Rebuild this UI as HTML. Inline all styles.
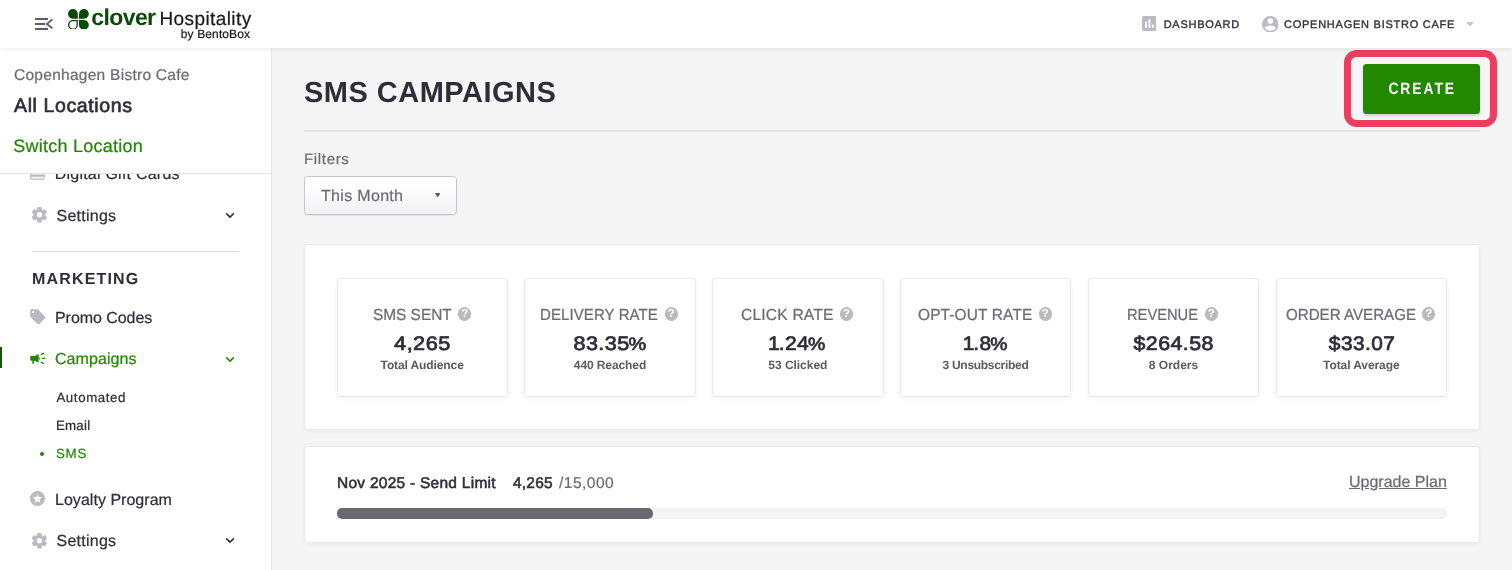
<!DOCTYPE html>
<html>
<head>
<meta charset="utf-8">
<title>SMS Campaigns</title>
<style>
*{box-sizing:border-box;margin:0;padding:0}
html,body{width:1512px;height:570px;overflow:hidden}
body{font-family:"Liberation Sans",sans-serif;background:#f5f5f5;color:#2d2e38;position:relative;will-change:transform;text-rendering:geometricPrecision}
.abs{position:absolute;white-space:nowrap}
/* header */
#hdr{position:absolute;left:0;top:0;width:1512px;height:48px;background:#fff;box-shadow:0 1px 5px rgba(0,0,0,.085);z-index:5}
/* sidebar */
#side{position:absolute;left:0;top:48px;width:272px;height:522px;background:#fff;border-right:1px solid #e4e4e6;z-index:2}
#sidetop{position:absolute;left:0;top:0;width:271px;height:126px;background:#fff;border-bottom:1px solid #e4e4e6;z-index:3}
.nav{font-size:16px;color:#2d2e38}
.sub{font-size:13.3px;color:#2d2e38}
.green{color:#228800}
body{-webkit-text-stroke:.22px currentColor}
[style*="font-weight:bold"],.card .s,.q{-webkit-text-stroke:0}
.med{font-weight:normal !important}
.abs.med{-webkit-text-stroke:.035em currentColor}
/* main */
.panel{position:absolute;background:#fff;border:1px solid #e9e9eb;border-radius:3.5px;box-shadow:0 2px 4px rgba(0,0,0,.045)}
.card{position:absolute;top:277.6px;width:171.4px;height:119px;background:#fff;border:1px solid #e9e9eb;border-radius:3.5px;box-shadow:0 2px 4px rgba(0,0,0,.05);text-align:center}
.card .l{position:absolute;left:0;right:0;top:27px;height:20px;font-size:16px;color:#6b6b73;-webkit-text-stroke:.015em currentColor;white-space:nowrap;display:flex;justify-content:center;align-items:center;padding-right:1.6px}
.card .v{position:absolute;left:0;right:0;top:54.3px;font-size:19.5px;letter-spacing:1px;-webkit-text-stroke:.038em currentColor;font-weight:bold;color:#2d2e38;white-space:nowrap}
.card .s{position:absolute;left:0;right:0;top:79.1px;font-size:12px;font-weight:bold;color:#5a5b64;white-space:nowrap}
.q{display:block;width:13.3px;height:13.3px;border-radius:50%;background:#b9b9be;color:#fff;font-size:11.5px;font-weight:bold;line-height:14.6px;text-align:center;margin-left:6.3px;letter-spacing:0;position:relative;top:-1.5px}
</style>
</head>
<body>

<div id="hdr">
  <!-- hamburger collapse icon -->
  <svg class="abs" style="left:34px;top:16px" width="20" height="16" viewBox="0 0 20 16">
    <g stroke="#5d5e68" stroke-width="1.8" fill="none">
      <path d="M1 3H14M1 8H11M1 13H14"/>
      <path d="M18.4 3.4L12.9 7.95L18.4 12.3" stroke-linejoin="miter"/>
    </g>
  </svg>
  <!-- clover logo -->
  <svg class="abs" style="left:67.9px;top:8.5px" width="20.8" height="20.8" viewBox="0 0 20.8 20.8">
    <g fill="#0b4a06">
      <path d="M9.8 9.8H4.9A4.9 4.9 0 1 1 9.8 4.9Z"/>
      <path d="M11 9.8V4.9A4.9 4.9 0 1 1 15.9 9.8Z"/>
      <path d="M11 11H15.9A4.9 4.9 0 1 1 11 15.9Z"/>
    </g>
    <path d="M9.15 11.65H4.9A4.25 4.25 0 1 0 9.15 15.9Z" fill="none" stroke="#0b4a06" stroke-width="1.3"/>
  </svg>
  <div class="abs" id="t_clover" style="left:91.3px;top:4.00px;font-size:23px;font-weight:bold;color:#0b4a06;letter-spacing:-0.60px">clover</div>
  <div class="abs" id="t_hosp" style="left:159.5px;top:8.7px;font-size:19px;color:#1a1a1a;letter-spacing:0.40px">Hospitality</div>
  <div class="abs" id="t_bento" style="left:180.8px;top:27.2px;font-size:12px;color:#1a1a1a;letter-spacing:.12px">by BentoBox</div>

  <!-- right -->
  <svg class="abs" style="left:1141.5px;top:16.4px" width="14.5" height="15" viewBox="0 0 14.5 15">
    <rect x="0" y="0" width="14.5" height="15" rx="1.8" fill="#bbbbc1"/>
    <rect x="3.1" y="5.5" width="1.9" height="6.3" fill="#fff"/>
    <rect x="6.5" y="3.4" width="1.9" height="8.4" fill="#fff"/>
    <rect x="9.9" y="8.6" width="1.9" height="3.2" fill="#fff"/>
  </svg>
  <div class="med abs" id="t_dash" style="left:1163.7px;top:19.30px;font-size:11px;font-weight:bold;color:#33343f;letter-spacing:0.72px">DASHBOARD</div>
  <svg class="abs" style="left:1261.5px;top:15.7px" width="16.6" height="16.6" viewBox="0 0 16.6 16.6">
    <circle cx="8.3" cy="8.3" r="8.3" fill="#bbbbc1"/>
    <circle cx="8.3" cy="5" r="2.8" fill="#fff"/>
    <ellipse cx="8.3" cy="12.1" rx="5.4" ry="2.7" fill="#fff"/>
  </svg>
  <div class="med abs" id="t_user" style="left:1284px;top:19.30px;font-size:11px;font-weight:bold;color:#33343f;letter-spacing:0.75px">COPENHAGEN BISTRO CAFE</div>
  <svg class="abs" style="left:1466px;top:22px" width="8" height="5" viewBox="0 0 8 5"><path d="M0 0H8L4 4.4Z" fill="#c6c6cb"/></svg>
</div>

<div id="side">
  <div id="sidetop">
    <div class="abs" id="t_cbc" style="left:14px;top:18.50px;font-size:15.5px;color:#6b6b73;letter-spacing:0.27px">Copenhagen Bistro Cafe</div>
    <div class="med abs" id="t_all" style="left:14px;top:47.30px;font-size:19.5px;font-weight:bold;color:#2d2e38;letter-spacing:0.62px">All Locations</div>
    <div class="abs" id="t_sw" style="left:13.3px;top:88px;font-size:18px;color:#228800;letter-spacing:.25px">Switch Location</div>
  </div>
  <!-- nav (positions relative to #side: y = page_y - 48) -->
  <svg class="abs" style="left:30.3px;top:120px" width="14.7" height="12" viewBox="0 0 14.7 12"><rect x=".6" y=".6" width="13.5" height="10.8" rx="1.4" fill="#f1f1f4" stroke="#c3c3ca" stroke-width="1.2"/><rect x=".6" y="6.6" width="13.5" height="2.1" fill="#b9b9bf"/></svg>
  <div class="abs nav" id="t_dgc" style="left:54.7px;top:118.2px;letter-spacing:0.23px">Digital Gift Cards</div>

  <svg class="abs gear" style="left:31.8px;top:159.3px" width="16" height="16" viewBox="0 0 16 16"><path fill="#b9b9bf" stroke="#b9b9bf" stroke-width=".8" stroke-linejoin="round" d="M9.37 2.57 L9.11 0.29 L5.69 0.29 L5.43 2.57 L3.94 3.43 L1.84 2.52 L0.13 5.48 L1.97 6.84 L1.97 8.56 L0.13 9.92 L1.84 12.88 L3.94 11.97 L5.43 12.83 L5.69 15.11 L9.11 15.11 L9.37 12.83 L10.86 11.97 L12.96 12.88 L14.67 9.92 L12.83 8.56 L12.83 6.84 L14.67 5.48 L12.96 2.52 L10.86 3.43Z"/><circle cx="7.4" cy="7.7" r="2.7" fill="#fff"/></svg>
  <div class="abs nav" id="t_set1" style="left:56.5px;top:160.00px;letter-spacing:0.25px">Settings</div>
  <svg class="abs" style="left:225.3px;top:163.7px" width="10" height="7" viewBox="0 0 10 7"><path d="M1.2 1.4L5 5.1L8.8 1.4" fill="none" stroke="#2d2e38" stroke-width="1.5"/></svg>

  <div class="abs" style="left:32px;top:203.1px;width:207px;height:1px;background:#dedee2"></div>

  <div class="abs" id="t_mkt" style="left:32px;top:222.6px;font-size:16px;font-weight:bold;color:#2d2e38;letter-spacing:1.17px">MARKETING</div>

  <svg class="abs" style="left:30px;top:261px" width="16" height="16" viewBox="0 0 16 16"><path d="M0.2 1.4A1.2 1.2 0 0 1 1.4 .2H7.2a1.2 1.2 0 0 1 .85 .35L15.05 7.55a1.2 1.2 0 0 1 0 1.7L9.3 15.05a1.2 1.2 0 0 1-1.7 0L.55 8A1.2 1.2 0 0 1 .2 7.2Z" fill="#b9b9bf"/><circle cx="3" cy="3" r="1" fill="#fff"/></svg>
  <div class="abs nav" id="t_promo" style="left:55px;top:261.60px;letter-spacing:-0.06px">Promo Codes</div>

  <div class="abs" style="left:0;top:298.7px;width:1.7px;height:21.7px;background:#0f5a0a"></div>
  <svg class="abs" style="left:30px;top:304px" width="16" height="13" viewBox="0 0 16 13"><g fill="#228800"><rect x=".2" y="4.1" width="6" height="4.6" rx="1.2"/><path d="M4.5 4.1L8.6 2V10.6L4.5 8.7Z"/><path d="M8.6 4.4A2 2.2 0 0 1 8.6 8.6Z" opacity=".75"/><rect x="2.3" y="8.4" width="1.8" height="3.3" rx=".4"/></g><g stroke="#228800" stroke-width="1.4" stroke-linecap="round"><path d="M11.3 2.4L13.6 1.35M12.4 6.4H14.8M11.3 10.3L13.6 11.5"/></g></svg>
  <div class="abs nav green" id="t_camp" style="left:55px;top:302.7px;letter-spacing:0.07px">Campaigns</div>
  <svg class="abs" style="left:225.3px;top:307.5px" width="10" height="7" viewBox="0 0 10 7"><path d="M1.2 1.4L5 5.1L8.8 1.4" fill="none" stroke="#228800" stroke-width="1.5"/></svg>

  <div class="abs sub" id="t_auto" style="left:56.4px;top:342.0px;letter-spacing:0.6px">Automated</div>
  <div class="abs sub" id="t_email" style="left:56px;top:369.7px;letter-spacing:0.21px">Email</div>
  <div class="abs" style="left:40px;top:403.6px;width:4px;height:4px;border-radius:50%;background:#228800"></div>
  <div class="abs sub green" id="t_sms" style="left:56px;top:398.0px;letter-spacing:0.75px">SMS</div>

  <svg class="abs" style="left:30.2px;top:443.4px" width="15" height="15" viewBox="0 0 15 15"><circle cx="7.5" cy="7.5" r="7.5" fill="#b9b9bf"/><path d="M7.50 2.80 L6.21 6.12 L2.65 6.32 L5.41 8.58 L4.50 12.03 L7.50 10.10 L10.50 12.03 L9.59 8.58 L12.35 6.32 L8.79 6.12Z" fill="#fff"/></svg>
  <div class="abs nav" id="t_loy" style="left:55px;top:444.05px;letter-spacing:0.03px">Loyalty Program</div>

  <svg class="abs gear" style="left:31.8px;top:484.7px" width="16" height="16" viewBox="0 0 16 16"><path fill="#b9b9bf" stroke="#b9b9bf" stroke-width=".8" stroke-linejoin="round" d="M9.37 2.57 L9.11 0.29 L5.69 0.29 L5.43 2.57 L3.94 3.43 L1.84 2.52 L0.13 5.48 L1.97 6.84 L1.97 8.56 L0.13 9.92 L1.84 12.88 L3.94 11.97 L5.43 12.83 L5.69 15.11 L9.11 15.11 L9.37 12.83 L10.86 11.97 L12.96 12.88 L14.67 9.92 L12.83 8.56 L12.83 6.84 L14.67 5.48 L12.96 2.52 L10.86 3.43Z"/><circle cx="7.4" cy="7.7" r="2.7" fill="#fff"/></svg>
  <div class="abs nav" id="t_set2" style="left:56.5px;top:485.40px;letter-spacing:0.25px">Settings</div>
  <svg class="abs" style="left:225.3px;top:489px" width="10" height="7" viewBox="0 0 10 7"><path d="M1.2 1.4L5 5.1L8.8 1.4" fill="none" stroke="#2d2e38" stroke-width="1.5"/></svg>
</div>



<!-- main -->
<div class="abs" id="t_title" style="left:304px;top:76.90px;font-size:29px;font-weight:bold;color:#2d2e38;letter-spacing:0.48px">SMS CAMPAIGNS</div>
<div class="abs" style="left:304px;top:130px;width:1176px;height:2px;background:#e6e6e8"></div>

<div class="abs" style="left:1344.3px;top:50px;width:152.7px;height:77.1px;border:7.5px solid #eb3d5e;border-radius:12.5px"></div>
<div class="abs" id="btn" style="left:1362.5px;top:63.9px;width:117.7px;height:49.9px;background:#228800;border-radius:3.5px;box-shadow:0 2px 3px rgba(0,0,0,.14);color:#fff;font-size:16px;font-weight:bold;text-align:center;line-height:51.2px;overflow:hidden"><span id="t_create" style="display:inline-block;letter-spacing:2.3px;margin-right:-2.3px;transform:scaleX(.84);font-size:16.5px">CREATE</span></div>

<div class="abs" id="t_filters" style="left:304px;top:150.90px;font-size:15px;color:#6b6b73;letter-spacing:0.67px">Filters</div>
<div class="abs" style="left:304.2px;top:176.2px;width:152.8px;height:38.6px;border:1px solid #c6c6cd;border-radius:3.5px;background:linear-gradient(#fff 20%,#f1f1f4);box-shadow:0 1px 1px rgba(0,0,0,.07)"></div>
<div class="abs" id="t_month" style="left:321px;top:188.40px;font-size:16px;color:#6b6b73;letter-spacing:.32px">This Month</div>
<svg class="abs" style="left:434.8px;top:193.3px" width="5.4" height="4.4" viewBox="0 0 5.4 4.4"><path d="M0 0H5.4L2.7 4.4Z" fill="#55565e"/></svg>

<div class="panel" style="left:304.2px;top:244.4px;width:1175.5px;height:186px"></div>

<div class="card" style="left:336.50px"><div class="l"><span id="t_l1" style="letter-spacing:0px;margin-right:-3.13px;display:inline-block;transform:scaleX(0.9617);transform-origin:0 50%;margin-left:1.6px">SMS SENT</span><span class="q">?</span></div><div class="v"><span class="med" id="t_v1" style="letter-spacing:0.4px;margin-right:-0.4px;display:inline-block;transform:scaleX(1.114)">4,265</span></div><div class="s"><span id="t_s1" style="letter-spacing:-0.11px;margin-right:0.11px">Total Audience</span></div></div>
<div class="card" style="left:524.33px"><div class="l"><span id="t_l2" style="letter-spacing:0.10px;margin-right:-7.83px;display:inline-block;transform:scaleX(0.9371);transform-origin:0 50%">DELIVERY RATE</span><span class="q">?</span></div><div class="v"><span class="med" id="t_v2" style="letter-spacing:0.4px;margin-right:-0.4px;display:inline-block;transform:scaleX(1.108)">83.35<span style="font-size:.92em;margin-left:-1.2px">%</span></span></div><div class="s"><span id="t_s2" style="letter-spacing:-0.10px;margin-right:0.10px">440 Reached</span></div></div>
<div class="card" style="left:712.16px"><div class="l"><span id="t_l3" style="letter-spacing:0.19px;margin-right:-2.30px;display:inline-block;transform:scaleX(0.9753);transform-origin:0 50%">CLICK RATE</span><span class="q">?</span></div><div class="v"><span class="med" id="t_v3" style="letter-spacing:0.4px;margin-right:-0.4px;display:inline-block;transform:scaleX(1.081)"><span style="letter-spacing:-1px;margin-left:-1.8px">1</span>.24<span style="font-size:.92em;margin-left:-1.2px">%</span></span></div><div class="s"><span id="t_s3" style="letter-spacing:-0.04px;margin-right:0.04px">53 Clicked</span></div></div>
<div class="card" style="left:899.99px"><div class="l"><span id="t_l4" style="letter-spacing:0.16px;margin-right:-4.19px;display:inline-block;transform:scaleX(0.9641);transform-origin:0 50%">OPT-OUT RATE</span><span class="q">?</span></div><div class="v"><span class="med" id="t_v4" style="letter-spacing:0.4px;margin-right:-0.4px;display:inline-block;transform:scaleX(1.068)"><span style="letter-spacing:-1px;margin-left:-1.8px">1</span>.8<span style="font-size:.92em;margin-left:-1.2px">%</span></span></div><div class="s"><span id="t_s4" style="letter-spacing:-0.29px;margin-right:0.29px">3 Unsubscribed</span></div></div>
<div class="card" style="left:1087.82px"><div class="l"><span id="t_l5" style="letter-spacing:0px;margin-right:-6.33px;display:inline-block;transform:scaleX(0.9182);transform-origin:0 50%">REVENUE</span><span class="q">?</span></div><div class="v"><span class="med" id="t_v5" style="letter-spacing:0.4px;margin-right:-0.4px;display:inline-block;transform:scaleX(1.096)">$264.58</span></div><div class="s"><span id="t_s5" style="letter-spacing:0.00px;margin-right:-0.00px">8 Orders</span></div></div>
<div class="card" style="left:1275.65px"><div class="l"><span id="t_l6" style="letter-spacing:0px;margin-right:-7.53px;display:inline-block;transform:scaleX(0.9453);transform-origin:0 50%">ORDER AVERAGE</span><span class="q">?</span></div><div class="v"><span class="med" id="t_v6" style="letter-spacing:0.4px;margin-right:-0.4px;display:inline-block;transform:scaleX(1.069)">$33.07</span></div><div class="s"><span id="t_s6" style="letter-spacing:-0.09px;margin-right:0.09px">Total Average</span></div></div>

<div class="panel" style="left:304.2px;top:446.3px;width:1175.5px;height:96.4px"></div>
<div class="med abs" id="t_lim" style="left:337px;top:474.6px;font-size:15.5px;font-weight:bold;color:#2d2e38;letter-spacing:0.26px">Nov 2025 - Send Limit</div>
<div class="med abs" id="t_cnt1" style="left:513px;top:475.2px;font-size:15.5px;font-weight:bold;color:#2d2e38;letter-spacing:.2px">4,265</div>
<div class="abs" id="t_cnt2" style="left:559px;top:474.90px;font-size:15.5px;color:#6b6b73;letter-spacing:.5px">/15,000</div>
<div class="abs" id="t_up" style="left:1349px;top:474px;font-size:16px;color:#6b6b73;text-decoration:underline">Upgrade Plan</div>
<div class="abs" style="left:337px;top:508.4px;width:1110px;height:10.2px;border-radius:5.1px;background:#f4f4f5"></div>
<div class="abs" style="left:337px;top:508.4px;width:315.6px;height:10.2px;border-radius:5.1px;background:#696a71"></div>

</body>
</html>
